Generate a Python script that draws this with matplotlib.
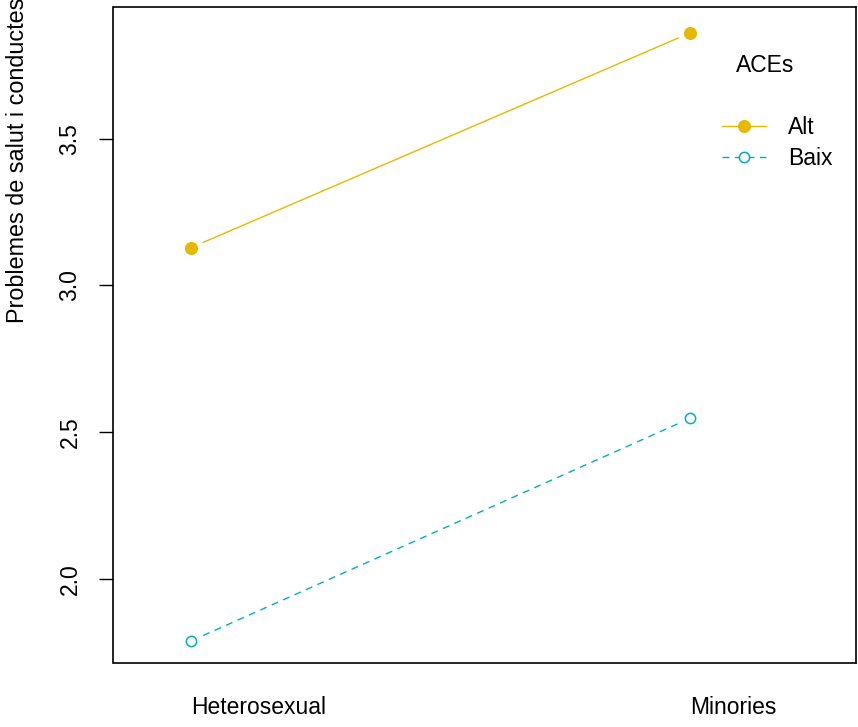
import matplotlib
matplotlib.use("Agg")
import matplotlib.pyplot as plt
from matplotlib.lines import Line2D
import numpy as np

plt.rcParams['font.family'] = ['Liberation Sans', 'DejaVu Sans']

groups = ["Heterosexual", "Minories"]
series = ["Alt", "Baix"]
values = {
    "Alt": [3.129, 3.861],
    "Baix": [1.788, 2.547],
}
colors = {"Alt": "#E7B800", "Baix": "#00AFBB"}
styles = {"Alt": "-", "Baix": (0, (5, 4))}
markers = {"Alt": dict(marker="o", mfc="#E7B800", mec="#E7B800", ms=8.4),
           "Baix": dict(marker="o", mfc="white", mec="#00AFBB", ms=7.4, mew=1.1)}
yticks = [2.0, 2.5, 3.0, 3.5]
ylabel = "Problemes de salut i conductes"
legend_title = "ACEs"

FS = 16.5
fig = plt.figure(figsize=(8.58, 7.27), dpi=100)
ax = fig.add_axes([113.5/858, 1-663/727, (855.5-113.5)/858, (663-7)/727])
ax.set_xlim(0.844, 2.331)
ax.set_ylim(1.7124, 3.949)

x = np.arange(1, len(groups)+1)
fig.canvas.draw()
gap = 13.0  # px gap around points (R type="b")
for s in series:
    pts = ax.transData.transform(np.column_stack([x, values[s]]))
    for i in range(len(pts)-1):
        p0, p1 = pts[i], pts[i+1]
        d = p1 - p0
        u = d/np.hypot(*d)
        a = ax.transData.inverted().transform(np.vstack([p0 + u*gap, p1 - u*gap]))
        ax.plot(a[:, 0], a[:, 1], color=colors[s], linestyle=styles[s], lw=1.0)
    ax.plot(x, values[s], linestyle="none", **markers[s])

ax.set_yticks(yticks)
ax.set_yticklabels([f"{v:.1f}" for v in yticks], rotation=90, va="center", fontsize=FS)
ax.tick_params(axis="y", length=10, width=1.0, pad=13)
ax.set_xticks(x)
ax.set_xticklabels(groups, ha="left", fontsize=FS)
ax.tick_params(axis="x", length=0, pad=24)
for sp in ax.spines.values():
    sp.set_linewidth(1.2)

fig.text(18/858, 1-323/727, ylabel, rotation=90, ha="center", va="bottom", fontsize=FS + 0.3)

handles = [Line2D([], [], color=colors[s], linestyle=styles[s], lw=1.0, **markers[s]) for s in series]
leg = ax.legend(handles, series, loc="upper left", bbox_to_anchor=(722/858, 1-116/727),
                bbox_transform=fig.transFigure, frameon=False, fontsize=FS,
                handlelength=1.92, handletextpad=0.96, labelspacing=0.33,
                borderpad=0, borderaxespad=0)
fig.text(765/858, 1-65/727, legend_title, ha="center", va="center", fontsize=FS)

fig.savefig("out.png", dpi=100)
